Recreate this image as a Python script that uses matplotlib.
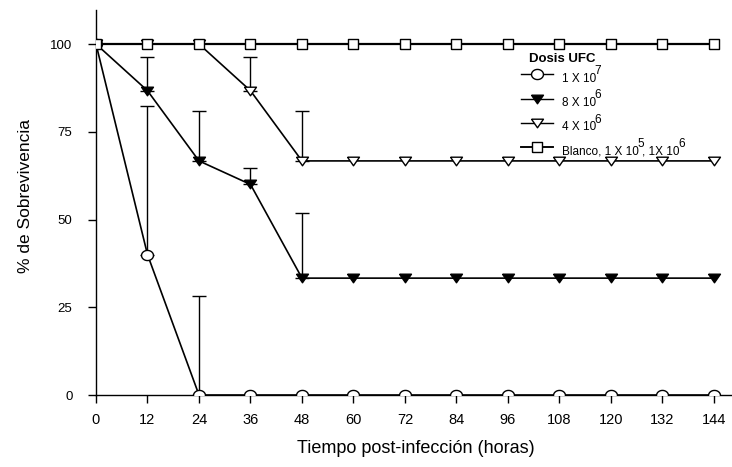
import matplotlib
matplotlib.use("Agg")
import matplotlib.pyplot as plt
import numpy as np
from matplotlib.lines import Line2D

plt.rcParams['font.family'] = ['Liberation Sans', 'DejaVu Sans']

hours = [0, 12, 24, 36, 48, 60, 72, 84, 96, 108, 120, 132, 144]
dose_1e7 = [100, 40, 0, 0, 0, 0, 0, 0, 0, 0, 0, 0, 0]
dose_8e6 = [100, 86.7, 66.7, 60, 33.3, 33.3, 33.3, 33.3, 33.3, 33.3, 33.3, 33.3, 33.3]
dose_4e6 = [100, 100, 100, 86.7, 66.7, 66.7, 66.7, 66.7, 66.7, 66.7, 66.7, 66.7, 66.7]
blanco = [100] * 13

# one-sided (upper) error bars: hour and upper limit
err_1e7_hours = [12, 24]
err_1e7_upper = [82.3, 28.2]
err_8e6_hours = [12, 24, 36, 48]
err_8e6_upper = [96.2, 81.0, 64.6, 51.8]
err_4e6_hours = [36, 48]
err_4e6_upper = [96.2, 81.0]

y_ticks = [0, 25, 50, 75, 100]

legend_title = "Dosis UFC"
# legend labels as (text, superscript) pieces
legend_pieces = [
    [("1 X 10", "7")],
    [("8 X 10", "6")],
    [("4 X 10", "6")],
    [("Blanco, 1 X 10", "5"), (", 1X 10", "6")],
]

W, H = 732, 467
fig = plt.figure(figsize=(W / 100, H / 100), dpi=100)
AX_L, AX_B, AX_T = 96, 395, 10
ax = fig.add_axes([AX_L / W, 1 - AX_B / H, 1 - AX_L / W, (AX_B - AX_T) / H])


def px(x, y):
    """pixel position (from top-left of figure) -> axes fraction"""
    return (x - AX_L) / (W - AX_L), (AX_B - y) / (AX_B - AX_T)


# slightly flattened marker shapes
t = np.linspace(0, 2 * np.pi, 41)
ellipse = list(zip(np.cos(t), 0.85 * np.sin(t)))
tri_down = [(-1, 0.72), (1, 0.72), (0, -0.72), (-1, 0.72)]
rect = [(-1, -0.85), (1, -0.85), (1, 0.85), (-1, 0.85), (-1, -0.85)]

styles = [
    dict(marker=ellipse, ms=8.6, mfc='white', lw=1.2),
    dict(marker=tri_down, ms=8.6, mfc='black', lw=1.2),
    dict(marker=tri_down, ms=8.6, mfc='white', lw=1.2),
    dict(marker=rect, ms=7.8, mfc='white', lw=1.6),
]


def upper_err(hrs, upper, series):
    vals = [series[hours.index(h)] for h in hrs]
    ax.errorbar(hrs, vals, yerr=[np.zeros(len(vals)), np.array(upper) - np.array(vals)],
                fmt='none', ecolor='black', elinewidth=1.0, capsize=5, capthick=1.0, zorder=1)


upper_err(err_1e7_hours, err_1e7_upper, dose_1e7)
upper_err(err_8e6_hours, err_8e6_upper, dose_8e6)
upper_err(err_4e6_hours, err_4e6_upper, dose_4e6)

for i, series in enumerate([dose_1e7, dose_8e6, dose_4e6, blanco]):
    st = styles[i]
    ax.plot(hours, series, color='black', lw=st['lw'], marker=st['marker'], ms=st['ms'],
            mfc=st['mfc'], mec='black', mew=1.0, zorder=3 + i)

ax.set_xlim(0, 148.2)
ax.set_ylim(0, 109.7)
ax.set_xticks(hours)
ax.set_yticks(y_ticks)
ax.spines['top'].set_visible(False)
ax.spines['right'].set_visible(False)
ax.spines['left'].set_linewidth(1.0)
ax.spines['bottom'].set_linewidth(1.0)
ax.tick_params(axis='both', direction='out', length=6, width=1.0)
ax.tick_params(axis='x', labelsize=10.5, pad=7)
ax.tick_params(axis='y', labelsize=9.5, pad=11)

ax.set_xlabel("Tiempo post-infección (horas)", fontsize=13)
ax.xaxis.label.set_va('baseline')
ax.xaxis.set_label_coords(*px(416, 453))

ax.set_ylabel("% de Sobrevivencia", fontsize=12.5)
ax.yaxis.label.set_va('center')
ax.yaxis.label.set_rotation_mode('default')
ax.yaxis.set_label_coords(*px(26, 196))

# legend block
leg_fs = 8.5
ax.text(*px(529, 62), legend_title, transform=ax.transAxes, fontsize=9.5,
        fontweight='bold', ha='left', va='baseline')
handle_rows = [74, 98.5, 123, 147.5]
for i, yh in enumerate(handle_rows):
    st = styles[i]
    x0, y0 = px(521, yh)
    x1, _ = px(553, yh)
    ax.add_line(Line2D([x0, (x0 + x1) / 2, x1], [y0] * 3, transform=ax.transAxes,
                       color='black', lw=st['lw'] * 0.85, marker=st['marker'], ms=st['ms'],
                       mfc=st['mfc'], mec='black', mew=1.0, markevery=[1], clip_on=False))
    base_y = px(0, yh + 7.5)[1]
    sup_y = px(0, yh)[1]
    prev = ax.text(*px(562, yh + 7.5), legend_pieces[i][0][0], transform=ax.transAxes,
                   fontsize=leg_fs, ha='left', va='baseline')
    for j, (txt, sup) in enumerate(legend_pieces[i]):
        if j > 0:
            prev = ax.annotate(txt, xy=(1, base_y), xycoords=(prev, ax.transAxes),
                               xytext=(-1.0, 0), textcoords='offset points',
                               fontsize=leg_fs, ha='left', va='baseline')
        prev = ax.annotate(sup, xy=(1, sup_y), xycoords=(prev, ax.transAxes),
                           xytext=(-1.2, 0), textcoords='offset points',
                           fontsize=leg_fs, ha='left', va='baseline')

fig.savefig("out.png", dpi=100)
